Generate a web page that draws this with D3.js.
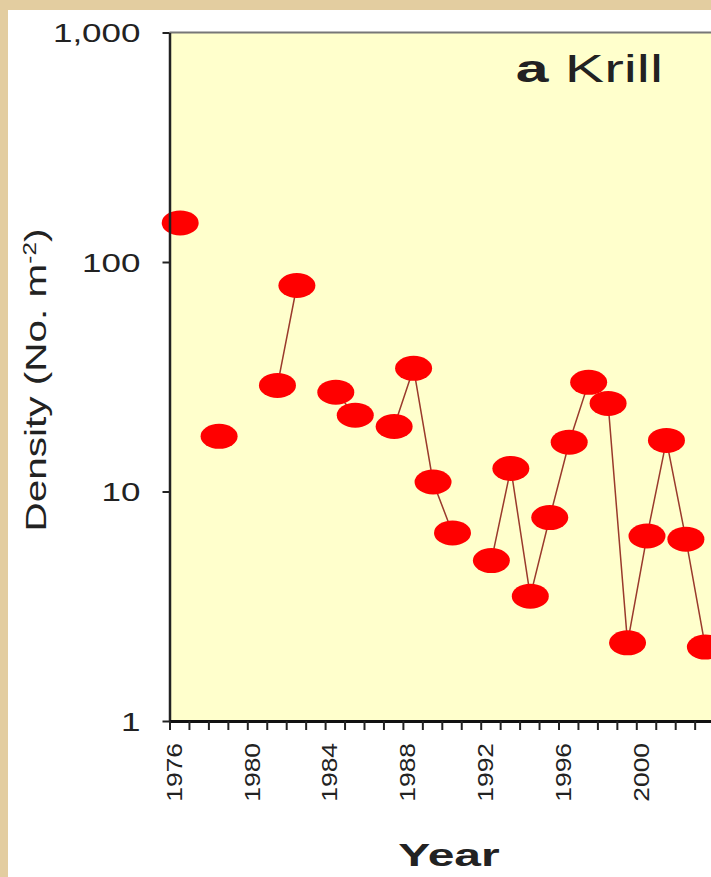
<!DOCTYPE html>
<html>
<head>
<meta charset="utf-8">
<script src="https://d3js.org/d3.v7.min.js"></script>
<style>
  body { margin: 0; background: #e3cda0; }
  text { font-family: "Liberation Sans", Arial, sans-serif; }
</style>
</head>
<body>
<div id="viz"></div>
<script>
// krill density per survey season (null = no survey)
var years = [1976, 1977, 1978, 1979, 1980, 1981, 1982, 1983, 1984, 1985, 1986, 1987, 1988, 1989,
             1990, 1991, 1992, 1993, 1994, 1995, 1996, 1997, 1998, 1999, 2000, 2001, 2002, 2003];
var density = [148, null, 17.4, null, null, 29, 79, null, 27.1, 21.5, null, 19.2, 34.4, 11.0,
               6.6, null, 5.0, 12.6, 3.5, 7.7, 16.4, 29.9, 24.2, 2.19, 6.4, 16.7, 6.2, 2.1];
var yTicks = [1, 10, 100, 1000];
var xLabelYears = [1976, 1980, 1984, 1988, 1992, 1996, 2000];

var width = 711,
    height = 877;

var plot = { left: 169.5, top: 32.5, bottom: 721, right: 711 };
var seasonShift = 0.55;   // points sit a bit past the year tick

var svg = d3.select("#viz").append("svg")
    .attr("width", width)
    .attr("height", height);

// tan frame and white panel
svg.append("rect")
    .attr("width", width)
    .attr("height", height)
    .attr("fill", "#e3cda0");
svg.append("rect")
    .attr("x", 8)
    .attr("y", 10)
    .attr("width", width - 8)
    .attr("height", height - 10)
    .attr("fill", "#ffffff");

var x = d3.scaleLinear()
    .domain([1976, 2004])
    .range([plot.left, plot.left + 28 * 19.45]);

var y = d3.scaleLog()
    .domain([1, 1000])
    .range([plot.bottom, plot.top]);

// plot area
svg.append("rect")
    .attr("x", plot.left)
    .attr("y", plot.top)
    .attr("width", plot.right - plot.left)
    .attr("height", plot.bottom - plot.top)
    .attr("fill", "#ffffcc");

svg.append("line")
    .attr("x1", plot.left)
    .attr("x2", plot.right)
    .attr("y1", plot.top)
    .attr("y2", plot.top)
    .attr("stroke", "#777")
    .attr("stroke-width", 2);

var points = years.map(function(d, i) {
    return { year: d, value: density[i] };
});

// connector line
var line = d3.line()
    .defined(function(d) { return d.value != null; })
    .x(function(d) { return x(d.year + seasonShift); })
    .y(function(d) { return y(d.value); });

svg.append("path")
    .datum(points)
    .attr("d", line)
    .attr("fill", "none")
    .attr("stroke", "#9a3a2c")
    .attr("stroke-width", 1.5);

// markers
svg.selectAll(".dot")
    .data(points.filter(function(d) { return d.value != null; }))
    .enter().append("ellipse")
    .attr("class", "dot")
    .attr("cx", function(d) { return x(d.year + seasonShift); })
    .attr("cy", function(d) { return y(d.value); })
    .attr("rx", 18.5)
    .attr("ry", 12.5)
    .attr("fill", "#ff0000");

// Y axis
var yAxis = svg.append("g")
    .attr("transform", "translate(" + plot.left + ",0)")
    .call(d3.axisLeft(y).tickValues(yTicks).tickFormat(d3.format(",")).tickSize(7).tickSizeOuter(0));
yAxis.select(".domain").attr("stroke", "#222").attr("stroke-width", 2.5);
yAxis.selectAll(".tick line").attr("stroke", "#222").attr("stroke-width", 2);
yAxis.selectAll(".tick text")
    .attr("x", null)
    .attr("dy", null)
    .attr("transform", "translate(-29,9) scale(1.4,1)")
    .attr("text-anchor", "end")
    .attr("font-size", 25)
    .attr("fill", "#222");

// X axis
var xAxis = svg.append("g")
    .attr("transform", "translate(0," + plot.bottom + ")")
    .call(d3.axisBottom(x)
        .tickValues(d3.range(1976, 2005))
        .tickFormat(function(d) { return xLabelYears.indexOf(d) >= 0 ? d : ""; })
        .tickSize(9)
        .tickSizeOuter(0));
xAxis.select(".domain").attr("stroke", "#111").attr("stroke-width", 3);
xAxis.selectAll(".tick line").attr("stroke", "#222").attr("stroke-width", 2);
xAxis.selectAll(".tick text")
    .attr("y", null)
    .attr("dy", "0.35em")
    .attr("transform", "translate(4,22) rotate(-90) scale(1.2,1)")
    .attr("text-anchor", "end")
    .attr("font-size", 22)
    .attr("fill", "#222");

// titles
var title = svg.append("text")
    .attr("transform", "translate(663,82) scale(1.55,1)")
    .attr("text-anchor", "end")
    .attr("font-size", 38)
    .attr("fill", "#222");
title.append("tspan").attr("font-weight", "bold").text("a");
title.append("tspan").text(" Krill");

svg.append("text")
    .attr("transform", "translate(449,866) scale(1.5,1)")
    .attr("text-anchor", "middle")
    .attr("font-size", 32)
    .attr("font-weight", "bold")
    .attr("fill", "#222")
    .text("Year");

var yTitle = svg.append("text")
    .attr("transform", "translate(46,380) rotate(-90) scale(1.35,1)")
    .attr("text-anchor", "middle")
    .attr("font-size", 30)
    .attr("fill", "#222");
yTitle.append("tspan").text("Density (No. m");
yTitle.append("tspan").attr("baseline-shift", "super").attr("font-size", "60%").text("-2");
yTitle.append("tspan").text(")");
</script>
</body>
</html>
